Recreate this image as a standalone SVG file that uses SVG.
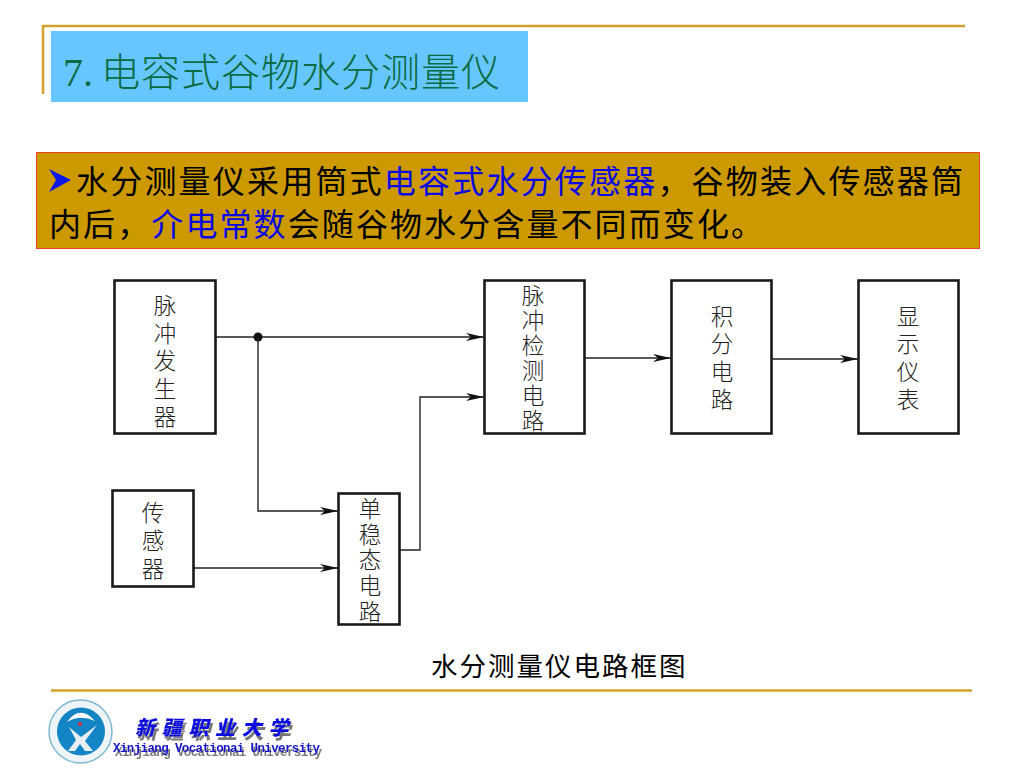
<svg xmlns="http://www.w3.org/2000/svg" width="1024" height="768" viewBox="0 0 1024 768">
<style>
text{font-family:"Noto Sans CJK SC","Liberation Serif",serif}
.box{fill:#fff;stroke:#1a1a1a;stroke-width:2.600}
.lb{font-size:22.500px;fill:#222;font-weight:300;writing-mode:vertical-rl}
.w{fill:none;stroke:#222;stroke-width:1.400}
.body{font-size:32px;letter-spacing:2.200px;fill:#000}
.b{fill:#0a0ae0}
.rule{stroke:#d2a12d;stroke-width:2.500;fill:none}
</style>
<defs>
<marker id="a" markerUnits="userSpaceOnUse" markerWidth="20" markerHeight="10" refX="18" refY="5" orient="auto"><path d="M0 1L18 5L0 9L5 5Z" fill="#111"/></marker>
<filter id="sh" x="-10%" y="-30%" width="120%" height="170%"><feDropShadow dx="2" dy="4" stdDeviation="0.600" flood-color="#777"/></filter>
</defs>
<rect width="1024" height="768" fill="#fff"/>
<path class="rule" d="M43 94V26H965"/>
<path class="rule" d="M51 690.500H972"/>
<g id="title"><rect x="51" y="31" width="477" height="71" fill="#66c7ff"/>
<text x="63" y="86" font-size="40" fill="#0b6b44" style="font-family:'Liberation Serif',serif">7.</text>
<text x="101" y="86" font-size="39" fill="#0b6b44" letter-spacing="1" font-weight="300">电容式谷物水分测量仪</text></g>
<g id="callout"><rect x="36.500" y="152.500" width="943" height="96" fill="#cc9900" stroke="#e8412a" stroke-width="1"/>
<path d="M49 169L71 180L49 192L56 180Z" fill="#0a18e8"/>
<text class="body" x="76" y="193">水分测量仪采用筒式<tspan class="b">电容式水分传感器</tspan>，谷物装入传感器筒</text>
<text class="body" x="49" y="236" style="letter-spacing:2.100px">内后，<tspan class="b">介电常数</tspan>会随谷物水分含量不同而变化。</text></g>
<g id="connectors">
<path class="w" d="M216 337H484" marker-end="url(#a)"/>
<circle cx="258" cy="337" r="4.500" fill="#111"/>
<path class="w" d="M258 337V511H338" marker-end="url(#a)"/>
<path class="w" d="M194 568H338" marker-end="url(#a)"/>
<path class="w" d="M400 550H420V397H484" marker-end="url(#a)"/>
<path class="w" d="M585 358H671" marker-end="url(#a)"/>
<path class="w" d="M772 359H858" marker-end="url(#a)"/>
</g>
<g id="n1"><rect class="box" x="114.500" y="280.500" width="101" height="153"/><text class="lb" x="165" y="294" letter-spacing="5.300">脉冲发生器</text></g>
<g id="n2"><rect class="box" x="112.500" y="490.500" width="81" height="96"/><text class="lb" x="153" y="501" letter-spacing="5.500">传感器</text></g>
<g id="n3"><rect class="box" x="338.500" y="493.500" width="61" height="131"/><text class="lb" x="370" y="497" letter-spacing="3.300">单稳态电路</text></g>
<g id="n4"><rect class="box" x="484.500" y="280.500" width="100" height="153"/><text class="lb" x="533" y="284" letter-spacing="2.500">脉冲检测电路</text></g>
<g id="n5"><rect class="box" x="671.500" y="280.500" width="100" height="153"/><text class="lb" x="722" y="305" letter-spacing="5.200">积分电路</text></g>
<g id="n6"><rect class="box" x="858.500" y="280.500" width="100" height="153"/><text class="lb" x="908" y="305" letter-spacing="5.200">显示仪表</text></g>
<text x="431" y="676" font-size="26.500" letter-spacing="2" fill="#000">水分测量仪电路框图</text>
<g id="logo">
<circle cx="80.500" cy="731.500" r="31.500" fill="#eef5f8" stroke="#7fb8d0" stroke-width="1.500"/>
<circle cx="81" cy="731.500" r="24" fill="#1485c4"/>
<path d="M67 722Q80 704 95 721Q80 714 67 722Z" fill="#fff"/>
<path d="M69 727L81 737L97 725L85 741L93 751H85L80 744L75 751H68L76 740Z" fill="#e8eef2"/>
<circle cx="80" cy="724" r="2" fill="#d03030"/>
</g>
<g id="university" filter="url(#sh)">
<text x="135" y="735" font-size="20" font-weight="900" font-style="italic" fill="#0a0ae0" letter-spacing="6.700">新疆职业大学</text>
<text x="113" y="752" font-size="12.500" font-weight="700" fill="#1414c8" style="font-family:'Liberation Mono',monospace" textLength="207">Xinjiang Vocationai University</text>
</g>
</svg>
